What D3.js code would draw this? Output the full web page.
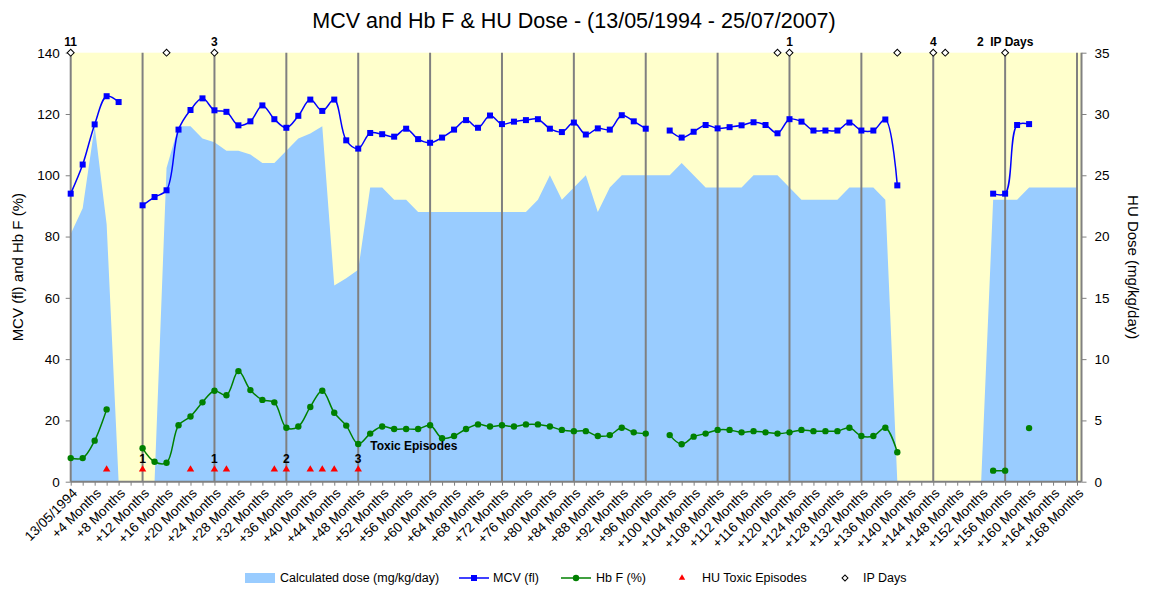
<!DOCTYPE html>
<html>
<head>
<meta charset="utf-8">
<script src="https://cdn.jsdelivr.net/npm/d3@7/dist/d3.min.js"></script>
<style>
  body { margin: 0; background: #fff; }
  text { font-family: "Liberation Sans", Arial, sans-serif; }
</style>
</head>
<body>
<div id="chart"></div>
<script>
const width = 1151, height = 590;

// months since 13/05/1994, one reading every 2 months
const months = [0,2,4,6,8,10,12,14,16,18,20,22,24,26,28,30,32,34,36,38,40,42,44,46,48,50,52,54,56,58,
  60,62,64,66,68,70,72,74,76,78,80,82,84,86,88,90,92,94,96,98,100,102,104,106,108,110,112,114,116,118,
  120,122,124,126,128,130,132,134,136,138,140,142,144,146,148,150,152,154,156,158,160,162,164,166,168];

const mcv = [94.0,103.5,116.6,125.8,123.9,null,90.2,92.9,95.1,114.9,121.3,125.1,121.2,120.7,116.3,117.6,122.8,118.3,115.5,119.4,
  124.7,121.0,124.7,111.4,108.7,113.8,113.4,112.6,115.2,111.8,110.6,112.3,114.9,118.0,115.5,119.5,116.7,117.5,118.0,118.3,
  115.2,114.1,117.2,113.3,115.3,114.9,119.6,117.6,115.2,null,114.6,112.3,114.2,116.4,115.3,115.7,116.3,117.3,116.4,113.7,
  118.3,117.5,114.6,114.6,114.6,117.2,114.6,114.6,118.2,96.7,null,null,null,null,null,null,null,94.0,94.0,116.4,
  116.7,null,null,null,null];

const hbf = [7.7,7.7,13.4,23.6,null,null,10.9,6.5,6.2,18.4,21.3,25.9,29.7,28.2,36.1,29.9,26.7,25.9,17.6,18.0,
  24.4,29.7,22.5,18.3,12.3,15.7,18.0,17.2,17.2,17.2,18.4,14.2,14.9,17.2,18.7,18.0,18.4,18.0,18.7,18.7,
  18.0,16.9,16.5,16.5,14.9,15.2,17.6,16.1,15.7,null,15.2,12.2,14.7,15.7,16.9,16.9,16.1,16.5,16.1,15.7,
  16.1,16.9,16.5,16.5,16.5,17.6,14.9,14.9,17.6,9.6,null,null,null,null,null,null,null,3.6,3.6,null,
  17.5,null,null,null,null];

// calculated HU dose (mg/kg/day), right axis
const dose = [20.2,22.3,29,21,0,0,0,0,25.6,29,29,28,27.7,27,27,26.7,26,26,27,28,
  28.4,29,16,16.6,17.3,24,24,23,23,22,22,22,22,22,22,22,22,22,22,23,
  25,23,24,25,22,24,25,25,25,25,25,26,25,24,24,24,24,25,25,25,
  24,23,23,23,23,24,24,24,23,0,0,0,0,0,0,0,0,23,23,23,
  24,24,24,24,24];

const toxicMonths = [6,12,20,24,26,34,36,40,42,44,48];
const toxicLevel = 4;
const toxicLabels = [{m:12, t:"1"}, {m:24, t:"1"}, {m:36, t:"2"}, {m:48, t:"3"}];

const ipMonths = [0,16,24,118,120,138,144,146,156];
const ipLevel = 140;
const ipLabels = [{m:0, t:"11"}, {m:24, t:"3"}, {m:120, t:"1"}, {m:144, t:"4"}, {m:156, t:"2\u00a0\u00a0IP Days"}];

const leftTicks = [0,20,40,60,80,100,120,140];
const rightTicks = [0,5,10,15,20,25,30,35];
const gridMonths = [12,24,36,48,60,72,84,96,108,120,132,144,156,168];
const labelMonths = d3.range(0, 169, 4);
const minorMonths = d3.range(0, 169, 2);

const pLeft = 70.7, pRight = 1081.5, pTop = 52.7, pBottom = 481.7;

const x = d3.scaleLinear().domain([0, 168.75]).range([pLeft, pRight]);
const yL = d3.scaleLinear().domain([0, 140]).range([pBottom, pTop]);
const yR = d3.scaleLinear().domain([0, 35]).range([pBottom, pTop]);

const svg = d3.select("#chart").append("svg")
  .attr("width", width)
  .attr("height", height);

// plot background
svg.append("rect")
  .attr("x", pLeft).attr("y", pTop)
  .attr("width", pRight - pLeft).attr("height", pBottom - pTop)
  .attr("fill", "#FFFFCC");

// dose area
const doseData = months.map((m, i) => ({m: m, v: dose[i]}));
svg.append("path")
  .datum(doseData)
  .attr("fill", "#99CCFF")
  .attr("d", d3.area().x(d => x(d.m)).y0(yR(0)).y1(d => yR(d.v)));

// vertical gridlines
svg.append("g")
  .selectAll("line")
  .data(gridMonths)
  .join("line")
  .attr("x1", d => x(d)).attr("x2", d => x(d))
  .attr("y1", pTop).attr("y2", pBottom)
  .attr("stroke", "#808080")
  .attr("stroke-width", 2);

// bottom axis
const xAxis = svg.append("g")
  .attr("transform", `translate(0,${pBottom})`)
  .call(d3.axisBottom(x).tickValues(minorMonths).tickSize(4).tickFormat(""));
xAxis.select(".domain").attr("stroke", "#808080").attr("stroke-width", 2)
  .attr("d", `M${pLeft},0H${pRight}`);
xAxis.selectAll(".tick line").attr("stroke", "#808080");

svg.append("g")
  .selectAll("text")
  .data(labelMonths)
  .join("text")
  .attr("transform", d => `translate(${x(d) + 4},${pBottom + 9}) rotate(-45)`)
  .attr("text-anchor", "end")
  .attr("dy", "0.35em")
  .attr("font-size", 13.5)
  .text(d => d === 0 ? "13/05/1994" : "+" + d + " Months");

// left axis
const yAxisL = svg.append("g")
  .attr("transform", `translate(${pLeft},0)`)
  .call(d3.axisLeft(yL).tickValues(leftTicks).tickSize(5).tickPadding(6));
yAxisL.select(".domain").attr("stroke", "#808080").attr("stroke-width", 2)
  .attr("d", `M0,${pTop}V${pBottom}`);
yAxisL.selectAll(".tick line").attr("stroke", "#808080");
yAxisL.selectAll(".tick text").attr("font-size", 13.5).attr("fill", "#000")
  .attr("font-family", "Liberation Sans, Arial, sans-serif");

// right axis
const yAxisR = svg.append("g")
  .attr("transform", `translate(${pRight},0)`)
  .call(d3.axisRight(yR).tickValues(rightTicks).tickSize(5).tickPadding(8));
yAxisR.select(".domain").attr("stroke", "#808080").attr("stroke-width", 2)
  .attr("d", `M0,${pTop}V${pBottom}`);
yAxisR.selectAll(".tick line").attr("stroke", "#808080");
yAxisR.selectAll(".tick text").attr("font-size", 13.5).attr("fill", "#000")
  .attr("font-family", "Liberation Sans, Arial, sans-serif");

// MCV line
const mcvData = months.map((m, i) => ({m: m, v: mcv[i]}));
svg.append("path")
  .datum(mcvData)
  .attr("fill", "none")
  .attr("stroke", "#0000FF")
  .attr("stroke-width", 1.5)
  .attr("d", d3.line().defined(d => d.v != null).curve(d3.curveCatmullRom.alpha(0.5))
    .x(d => x(d.m)).y(d => yL(d.v)));
svg.append("g")
  .selectAll("rect")
  .data(mcvData.filter(d => d.v != null))
  .join("rect")
  .attr("x", d => x(d.m) - 3).attr("y", d => yL(d.v) - 3)
  .attr("width", 6).attr("height", 6)
  .attr("fill", "#0000FF");

// Hb F line
const hbfData = months.map((m, i) => ({m: m, v: hbf[i]}));
svg.append("path")
  .datum(hbfData)
  .attr("fill", "none")
  .attr("stroke", "#008000")
  .attr("stroke-width", 1.5)
  .attr("d", d3.line().defined(d => d.v != null).curve(d3.curveCatmullRom.alpha(0.5))
    .x(d => x(d.m)).y(d => yL(d.v)));
svg.append("g")
  .selectAll("circle")
  .data(hbfData.filter(d => d.v != null))
  .join("circle")
  .attr("cx", d => x(d.m)).attr("cy", d => yL(d.v))
  .attr("r", 3.2)
  .attr("fill", "#008000");

// HU toxic episodes
const tri = d3.symbol(d3.symbolTriangle, 24);
svg.append("g")
  .selectAll("path")
  .data(toxicMonths)
  .join("path")
  .attr("transform", d => `translate(${x(d)},${yL(toxicLevel)})`)
  .attr("d", tri)
  .attr("fill", "#FF0000");
svg.append("g")
  .selectAll("text")
  .data(toxicLabels)
  .join("text")
  .attr("x", d => x(d.m)).attr("y", yL(toxicLevel) - 6)
  .attr("text-anchor", "middle")
  .attr("font-size", 12).attr("font-weight", "bold")
  .text(d => d.t);
svg.append("text")
  .attr("x", x(48) + 12).attr("y", 450)
  .attr("font-size", 12).attr("font-weight", "bold")
  .text("Toxic Episodes");

// IP days
const dia = d3.symbol(d3.symbolSquare, 24);
svg.append("g")
  .selectAll("path")
  .data(ipMonths)
  .join("path")
  .attr("transform", d => `translate(${x(d)},${yL(ipLevel)}) rotate(45)`)
  .attr("d", dia)
  .attr("fill", "#fff")
  .attr("stroke", "#000")
  .attr("stroke-width", 1);
svg.append("g")
  .selectAll("text")
  .data(ipLabels)
  .join("text")
  .attr("x", d => x(d.m)).attr("y", yL(ipLevel) - 7)
  .attr("text-anchor", "middle")
  .attr("font-size", 12).attr("font-weight", "bold")
  .text(d => d.t);

// title
svg.append("text")
  .attr("x", 574).attr("y", 28)
  .attr("text-anchor", "middle")
  .attr("font-size", 21.5)
  .text("MCV and Hb F & HU Dose - (13/05/1994 - 25/07/2007)");

// axis titles
svg.append("text")
  .attr("transform", `translate(23,${(pTop + pBottom) / 2}) rotate(-90)`)
  .attr("text-anchor", "middle")
  .attr("font-size", 15)
  .text("MCV (fl) and Hb F (%)");
svg.append("text")
  .attr("transform", `translate(1128,${(pTop + pBottom) / 2}) rotate(90)`)
  .attr("text-anchor", "middle")
  .attr("font-size", 15)
  .text("HU Dose (mg/kg/day)");

// legend
const ly = 578;
const legend = svg.append("g").attr("font-size", 12.5);
legend.append("rect").attr("x", 245).attr("y", ly - 5).attr("width", 30).attr("height", 10).attr("fill", "#99CCFF");
legend.append("text").attr("x", 280).attr("y", ly).attr("dy", "0.35em").text("Calculated dose (mg/kg/day)");
legend.append("line").attr("x1", 459).attr("x2", 489).attr("y1", ly).attr("y2", ly).attr("stroke", "#0000FF").attr("stroke-width", 1.5);
legend.append("rect").attr("x", 471).attr("y", ly - 3).attr("width", 6).attr("height", 6).attr("fill", "#0000FF");
legend.append("text").attr("x", 493).attr("y", ly).attr("dy", "0.35em").text("MCV (fl)");
legend.append("line").attr("x1", 561).attr("x2", 591).attr("y1", ly).attr("y2", ly).attr("stroke", "#008000").attr("stroke-width", 1.5);
legend.append("circle").attr("cx", 576).attr("cy", ly).attr("r", 3.2).attr("fill", "#008000");
legend.append("text").attr("x", 596).attr("y", ly).attr("dy", "0.35em").text("Hb F (%)");
legend.append("path").attr("transform", `translate(682,${ly})`).attr("d", d3.symbol(d3.symbolTriangle, 18)).attr("fill", "#FF0000");
legend.append("text").attr("x", 702).attr("y", ly).attr("dy", "0.35em").text("HU Toxic Episodes");
legend.append("path").attr("transform", `translate(845,${ly}) rotate(45)`).attr("d", d3.symbol(d3.symbolSquare, 18))
  .attr("fill", "#fff").attr("stroke", "#000");
legend.append("text").attr("x", 863).attr("y", ly).attr("dy", "0.35em").text("IP Days");
</script>
</body>
</html>
